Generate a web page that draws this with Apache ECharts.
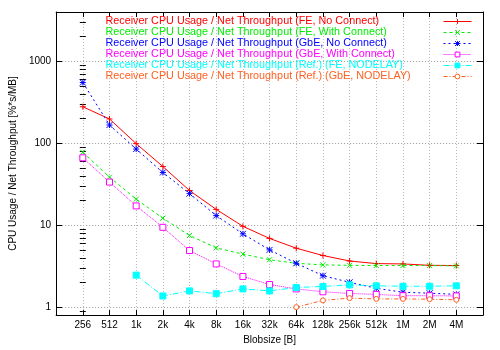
<!DOCTYPE html>
<html>
<head>
<meta charset="utf-8">
<script src="https://cdn.jsdelivr.net/npm/echarts@6/dist/echarts.min.js"></script>
<style>
  html, body { margin: 0; padding: 0; background: #fff; }
  #cpuChart { width: 500px; height: 350px; }
</style>
</head>
<body>
<div id="cpuChart"></div>
<script>
//blob sizes on the x axis
var blobSizes = ['256', '512', '1k', '2k', '4k', '8k', '16k', '32k', '64k', '128k', '256k', '512k', '1M', '2M', '4M'];
var yTicks = [1, 10, 100, 1000];
var yMinorTicks = [0.9, 2, 3, 4, 5, 6, 7, 8, 9, 20, 30, 40, 50, 60, 70, 80, 90,
  200, 300, 400, 500, 600, 700, 800, 900, 2000, 3000, 4000];

var seriesNames = [
  'Receiver CPU Usage / Net Throughput (FE, No Connect)',
  'Receiver CPU Usage / Net Throughput (FE, With Connect)',
  'Receiver CPU Usage / Net Throughput (GbE, No Connect)',
  'Receiver CPU Usage / Net Throughput (GbE, With Connect)',
  'Receiver CPU Usage / Net Throughput (Ref.) (FE, NODELAY)',
  'Receiver CPU Usage / Net Throughput (Ref.) (GbE, NODELAY)'
];
var feNoConnect = [279, 198, 99, 52, 26.5, 15.6, 9.7, 6.9, 5.24, 4.27, 3.66, 3.40, 3.37, 3.24, 3.22];
var feWithConnect = [77.6, 38.6, 20.8, 12.2, 7.5, 5.29, 4.44, 3.79, 3.43, 3.28, 3.24, 3.22, 3.22, 3.22, 3.19];
var gbeNoConnect = [551, 167, 85, 44, 24.3, 13.1, 7.85, 5.0, 3.43, 2.42, 2.01, 1.70, 1.52, 1.48, 1.43];
var gbeWithConnect = [66.5, 33.6, 17.2, 9.43, 4.91, 3.37, 2.37, 1.89, 1.67, 1.54, 1.47, 1.43, 1.38, 1.38, 1.37];
var refFeNodelay = [null, null, 2.46, 1.37, 1.58, 1.46, 1.67, 1.58, 1.74, 1.79, 1.87, 1.82, 1.80, 1.80, 1.82];
var refGbeNodelay = [null, null, null, null, null, null, null, null, 1.0, 1.21, 1.29, 1.26, 1.26, 1.25, 1.23];

var fontName = '"Liberation Sans", Arial, sans-serif';

cpuChart();

//把数组变成 [index, value]
function toPairs(arr) {
  var out = [];
  for (var i = 0; i < arr.length; i++) {
    if (arr[i] != null) {
      out.push([i, arr[i]]);
    }
  }
  return out;
}

function isDecade(v) {
  var l = Math.log(v) / Math.LN10;
  return Math.abs(l - Math.round(l)) < 1e-6;
}

//fill 为空时用线的颜色填充
function makeSeries(name, values, color, dash, symbol, size, fill) {
  return {
    name: name,
    type: 'line',
    data: toPairs(values),
    symbol: symbol,
    symbolSize: size,
    showSymbol: true,
    xAxisIndex: 0,
    yAxisIndex: 0,
    lineStyle: {
      color: color,
      width: 1,
      type: dash
    },
    itemStyle: {
      color: fill || color,
      borderColor: color,
      borderWidth: 1
    },
    emphasis: { disabled: true }
  };
}

function cpuChart() {
  var mychart = echarts.init(document.getElementById('cpuChart'));
  var plus = 'path://M0,3L6,3M3,0L3,6';
  var cross = 'path://M0,0L6,6M0,6L6,0';
  var star = 'path://M0,3L6,3M3,0L3,6M0,0L6,6M0,6L6,0';
  var colors = ['#ff0000', '#00ee00', '#0000ff', '#ff00ff', '#00ffff', '#ff6020'];
  var fills = [null, null, null, '#fff', null, '#fff'];

  var xBase = {
    type: 'value',
    min: -1,
    max: 15,
    interval: 1
  };
  var yBase = {
    type: 'log',
    logBase: 10,
    min: 0.8,
    max: 4000
  };

  //图例每一项颜色单独给
  var legendData = [];
  for (var i = 0; i < seriesNames.length; i++) {
    legendData.push({
      name: seriesNames[i],
      textStyle: { color: colors[i] },
      lineStyle: { color: colors[i], width: 1 },
      itemStyle: { color: fills[i] || colors[i], borderColor: colors[i], borderWidth: 1 }
    });
  }

  var option = {
    animation: false,
    backgroundColor: '#fff',
    textStyle: { fontFamily: fontName },
    grid: {
      left: 49,
      right: 17,
      top: 12,
      bottom: 29,
      containLabel: false
    },
    legend: {
      orient: 'vertical',
      right: 28,
      top: 16,
      padding: 0,
      itemWidth: 28,
      itemHeight: 6,
      itemGap: 0,
      align: 'right',
      selectedMode: false,
      data: legendData,
      formatter: function (name) {
        return '{a|' + name + '}';
      },
      textStyle: {
        fontFamily: fontName,
        fontSize: 10.8,
        rich: {
          a: { width: 333, align: 'left', fontSize: 10.8, lineHeight: 9.7, fontFamily: fontName }
        }
      }
    },
    xAxis: [
      echarts.util.merge({
        position: 'bottom',
        name: 'Blobsize [B]',
        nameLocation: 'middle',
        nameGap: 17,
        nameTextStyle: { color: '#000', fontSize: 10 },
        axisLine: { show: true, onZero: false, lineStyle: { color: '#000', width: 1 } },
        axisTick: { show: true, inside: true, length: 5, lineStyle: { color: '#000' } },
        axisLabel: {
          color: '#000',
          fontSize: 10,
          margin: 5,
          formatter: function (v) {
            return blobSizes[v] || '';
          }
        },
        splitLine: { show: true, lineStyle: { color: '#bbb', type: [1, 2] } }
      }, xBase),
      echarts.util.merge({
        position: 'top',
        axisLine: { show: true, onZero: false, lineStyle: { color: '#000', width: 1 } },
        axisTick: { show: true, inside: true, length: 5, lineStyle: { color: '#000' } },
        axisLabel: { show: false },
        splitLine: { show: false }
      }, xBase)
    ],
    yAxis: [
      echarts.util.merge({
        position: 'left',
        name: 'CPU Usage / Net Throughput [%*s/MB]',
        nameLocation: 'middle',
        nameGap: 36,
        nameTextStyle: { color: '#000', fontSize: 10 },
        axisLine: { show: true, onZero: false, lineStyle: { color: '#000', width: 1 } },
        axisTick: { show: true, inside: true, length: 6, customValues: yTicks, lineStyle: { color: '#000' } },
        axisLabel: {
          color: '#000',
          fontSize: 10,
          margin: 5,
          customValues: yTicks,
          formatter: function (v) {
            return isDecade(v) ? String(Math.round(v)) : '';
          }
        },
        splitLine: { show: true, lineStyle: { color: '#999', type: [1, 2] } }
      }, yBase),
      echarts.util.merge({
        position: 'right',
        axisLine: { show: true, onZero: false, lineStyle: { color: '#000', width: 1 } },
        axisTick: { show: true, inside: true, length: 6, customValues: yTicks, lineStyle: { color: '#000' } },
        axisLabel: { show: false },
        splitLine: { show: false }
      }, yBase),
      //小刻度 左
      echarts.util.merge({
        position: 'left',
        axisLine: { show: false },
        axisTick: { show: true, inside: true, length: 3, customValues: yMinorTicks, lineStyle: { color: '#000' } },
        axisLabel: { show: false },
        splitLine: { show: false }
      }, yBase),
      //小刻度 右
      echarts.util.merge({
        position: 'right',
        axisLine: { show: false },
        axisTick: { show: true, inside: true, length: 3, customValues: yMinorTicks, lineStyle: { color: '#000' } },
        axisLabel: { show: false },
        splitLine: { show: false }
      }, yBase)
    ],
    series: [
      makeSeries(seriesNames[0], feNoConnect, colors[0], 'solid', plus, 6),
      makeSeries(seriesNames[1], feWithConnect, colors[1], [3, 3], cross, 5),
      makeSeries(seriesNames[2], gbeNoConnect, colors[2], [2, 3], star, 6),
      makeSeries(seriesNames[3], gbeWithConnect, colors[3], [1, 1], 'rect', 6, fills[3]),
      makeSeries(seriesNames[4], refFeNodelay, colors[4], [6, 2, 1, 2], 'rect', 6),
      makeSeries(seriesNames[5], refGbeNodelay, colors[5], [4, 2, 1, 2], 'circle', 5, fills[5])
    ]
  };
  mychart.setOption(option);
}
</script>
</body>
</html>
